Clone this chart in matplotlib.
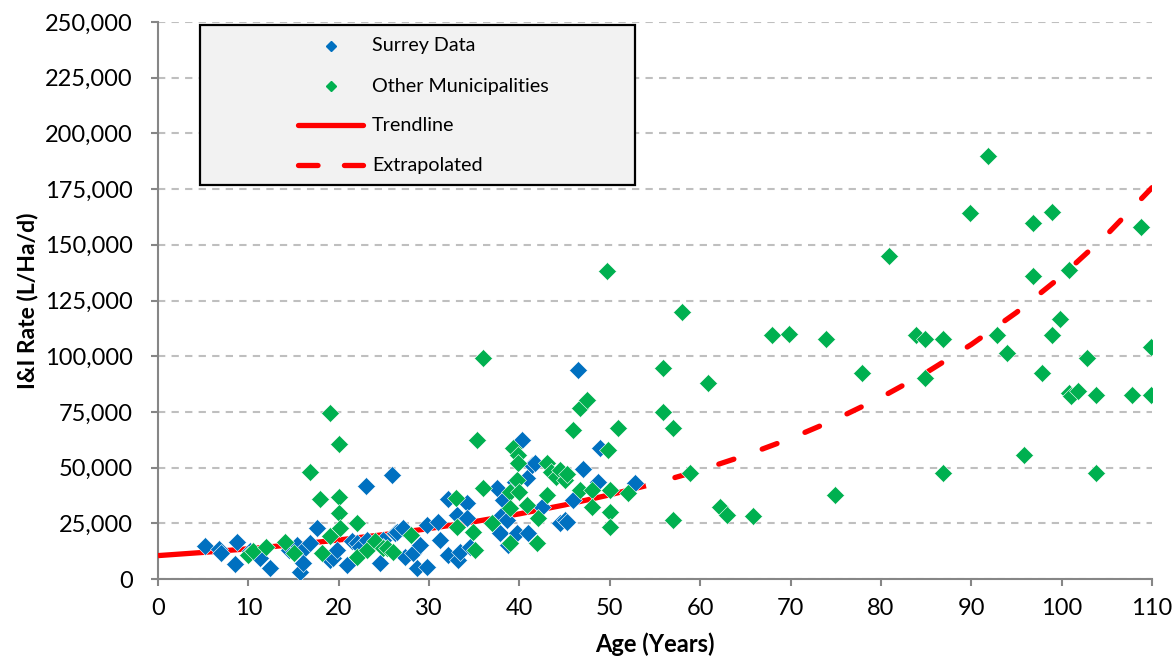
import matplotlib
matplotlib.use("Agg")
import matplotlib.pyplot as plt
from matplotlib.patches import Rectangle
from matplotlib.ticker import FuncFormatter, MultipleLocator

# ---------------- data ----------------
surrey_age = [5.2, 6.7, 7.0, 8.5, 8.7, 10.2, 11.3, 12.4, 14.5, 15.4, 16.0, 15.7, 16.0, 16.8,
              17.6, 19.0, 19.4, 19.8, 20.9, 21.5, 22.0, 22.4, 23.0, 23.1, 24.6, 24.9, 24.9,
              25.9, 26.2, 26.4, 27.1, 27.3, 28.2, 28.7, 29.0, 29.8, 29.8, 31.0, 31.2, 32.1,
              32.1, 33.1, 33.2, 33.4, 34.2, 34.2, 34.5, 37.5, 37.8, 38.1, 38.2, 38.6, 38.7,
              39.5, 39.7, 40.3, 40.8, 41.0, 41.4, 41.7, 42.5, 44.5, 45.0, 45.3, 45.9, 46.5,
              47.0, 48.7, 48.9, 52.8]
surrey_rate = [14800, 13500, 11500, 6700, 16600, 12500, 9400, 4900, 13000, 15300, 13000, 3100,
               7200, 16200, 22900, 8500, 9400, 13000, 6300, 17000, 16200, 14400, 41700, 17500,
               7200, 17500, 14400, 46700, 20600, 21100, 22900, 9900, 11700, 4900, 15300, 24200,
               5400, 25600, 17500, 35900, 10800, 28700, 8500, 12100, 34100, 27400, 14400, 40800,
               20600, 28700, 35400, 26500, 15300, 43500, 20600, 62400, 45500, 20600, 51200,
               52000, 32300, 25100, 26500, 25600, 35400, 93800, 49400, 43500, 58800, 43100]

other_age = [10.0, 10.5, 12.0, 14.0, 15.0, 16.8, 17.9, 18.1, 19.0, 19.0, 20.0, 20.0, 20.0, 20.1,
             22.0, 22.0, 23.1, 24.0, 24.9, 25.3, 26.0, 28.0, 33.0, 33.1, 34.9, 35.1, 35.3,
             36.0, 36.0, 37.0, 39.0, 39.0, 39.0, 39.3, 39.7, 39.8, 39.8, 40.0, 40.8, 41.9,
             42.0, 43.0, 43.0, 43.5, 44.0, 44.5, 45.0, 45.3, 45.9, 46.7, 46.7, 47.5, 48.0,
             48.0, 49.7, 49.8, 50.0, 50.0, 50.0, 50.9, 52.0, 55.9, 55.9, 57.0, 57.0, 58.0,
             58.9, 60.9, 62.2, 63.0, 65.8, 68.0, 69.8, 73.9, 74.9, 77.9, 80.9, 83.9, 84.9,
             84.9, 86.9, 86.9, 89.9, 91.9, 92.9, 94.0, 95.8, 96.8, 96.8, 97.8, 98.9, 98.9,
             99.8, 100.8, 100.8, 101.0, 101.8, 102.8, 103.8, 103.8, 107.8, 108.8, 109.9, 109.9]
other_rate = [10800, 12500, 14400, 16600, 11700, 48000, 35900, 11700, 74500, 19300, 60600, 36800,
              29600, 22900, 25100, 9900, 13000, 17000, 13900, 13900, 12100, 19700, 36400, 23300,
              21100, 13000, 62200, 99000, 40800, 25100, 39000, 31900, 16200, 58800, 44400, 55600,
              52000, 39000, 33200, 16200, 27400, 52000, 37700, 48000, 46000, 49000, 44500, 47000,
              66900, 76700, 40000, 80300, 40000, 32300, 138200, 57900, 40000, 30100, 23300, 67800,
              38600, 94700, 75000, 67800, 26500, 119800, 47600, 88000, 32300, 28700, 28300,
              109500, 110000, 107700, 37700, 92400, 145000, 109500, 107700, 90200, 107700,
              47600, 164300, 189800, 109500, 101400, 55600, 159800, 136000, 92400, 164700,
              109500, 116700, 138700, 83500, 82000, 84400, 99200, 82600, 47600, 82600, 158000,
              104100, 82600]

trend_age = [0, 5, 10, 15, 20, 25, 30, 35, 40, 45, 50, 54]
trend_rate = [10500, 11930, 13570, 15420, 17520, 19920, 22640, 25730, 29250, 33240, 37780, 41860]
extrap_age = [54, 55, 60, 65, 70, 75, 80, 85, 90, 95, 100, 105, 110]
extrap_rate = [41860, 42950, 48810, 55480, 63060, 71680, 81470, 92600, 105250, 119630,
               135970, 154540, 175650]

series_labels = ["Surrey Data", "Other Municipalities", "Trendline", "Extrapolated"]

# ---------------- style ----------------
BLUE = "#0070C0"
GREEN = "#00B050"
RED = "#FF0000"
GRID = "#BFBFBF"
AXIS = "#868686"
FONT = ["Lato", "DejaVu Sans"]
plt.rcParams["font.family"] = FONT

fig = plt.figure(figsize=(11.76, 6.59), dpi=100)
ax = fig.add_axes([158 / 1176, 80 / 659, 994 / 1176, 557 / 659])

ax.set_xlim(0, 110)
ax.set_ylim(0, 250000)

ax.plot(trend_age, trend_rate, color=RED, lw=3.8, solid_capstyle="butt", zorder=3)
ax.plot(extrap_age, extrap_rate, color=RED, lw=3.8, dash_capstyle="round",
        linestyle=(3.0, (3.0, 5.7)), zorder=3)

ax.plot(surrey_age, surrey_rate, linestyle="none", marker="D", ms=8.9, mfc=BLUE, mec="white",
        mew=0.4, zorder=4)
ax.plot(other_age, other_rate, linestyle="none", marker="D", ms=8.9, mfc=GREEN, mec="white",
        mew=0.4, zorder=5)

# grid
ax.yaxis.set_major_locator(MultipleLocator(25000))
ax.xaxis.set_major_locator(MultipleLocator(10))
ax.yaxis.grid(True, color=GRID, lw=1.5, linestyle=(0, (3.5, 3.0)), zorder=0)
ax.set_axisbelow(True)
ax.yaxis.set_major_formatter(FuncFormatter(lambda v, p: f"{int(v):,}"))

for s in ("top", "right"):
    ax.spines[s].set_visible(False)
for s in ("left", "bottom"):
    ax.spines[s].set_color(AXIS)
    ax.spines[s].set_linewidth(1.5)
ax.tick_params(axis="both", direction="out", length=5, width=1.5, color=AXIS,
               labelsize=17, labelcolor="black")
ax.tick_params(axis="y", pad=13)
ax.tick_params(axis="x", pad=9)

ax.set_ylabel("I&I Rate (L/Ha/d)", fontsize=16.5, fontweight="bold", labelpad=5)
ax.set_xlabel("Age (Years)", fontsize=17, fontweight="bold", labelpad=9)

# ---------------- legend (manual box) ----------------
tr = ax.transAxes
ax.add_patch(Rectangle((0.0423, 0.7074), 0.4376, 0.2872, transform=tr, facecolor="#F2F2F2",
                       edgecolor="black", lw=1.6, zorder=10, clip_on=False))
ax.plot([0.174], [0.957], transform=tr, marker="D", ms=5.5, color=BLUE, ls="none", zorder=11,
        clip_on=False)
ax.plot([0.174], [0.885], transform=tr, marker="D", ms=5.5, color=GREEN, ls="none", zorder=11,
        clip_on=False)
ax.plot([0.141, 0.206], [0.815, 0.815], transform=tr, color=RED, lw=3.8,
        solid_capstyle="round", zorder=11, clip_on=False)
ax.plot([0.141, 0.206], [0.743, 0.743], transform=tr, color=RED, lw=3.8,
        dash_capstyle="round", linestyle=(0, (3.7, 5.0)), zorder=11, clip_on=False)
for yy, lab in zip([0.957, 0.885, 0.815, 0.743], series_labels):
    ax.text(0.2153, yy, lab, transform=tr, fontsize=14.2, va="center", ha="left", zorder=12)

fig.savefig("out.png", dpi=100)
